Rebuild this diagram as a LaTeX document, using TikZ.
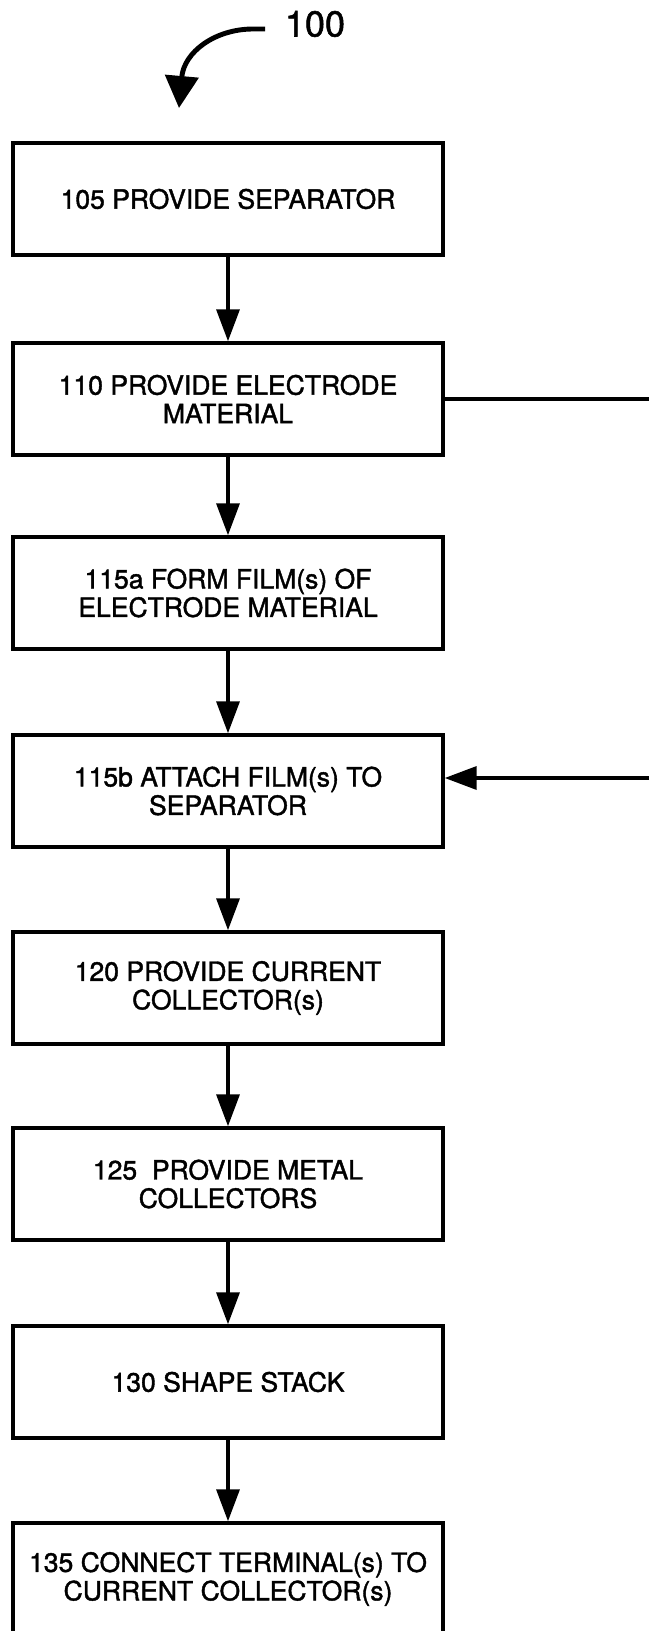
\documentclass[tikz,border=0pt]{standalone}
\usepackage{fontspec}
\setmainfont{TeX Gyre Heros}
\newfontfamily\stepfont[FakeBold=1.5]{TeX Gyre Heros}
\usetikzlibrary{arrows.meta, positioning}

\begin{document}
\begin{tikzpicture}[x=0.02cm, y=-0.02cm, line width=2pt,
    stepbox/.style={draw, minimum width=8.6cm, minimum height=2.24cm, inner sep=0pt, align=center, font=\stepfont\fontsize{15.1}{16.2}\selectfont},
    flow/.style={-{Triangle[length=0.64cm, width=0.46cm]}}]
    \def\cx{228}
    \useasboundingbox (0,0) rectangle (649,1631);
    \clip (0,0) rectangle (649,1631);
    % 图号
    \node[font=\stepfont\fontsize{20.5}{20.5}\selectfont, inner xsep=0.36cm, inner ysep=0pt] (fig) at (315,24) {100};
    \coordinate (figtip) at (179,108);
    \draw[line width=2.8pt, -{Triangle[length=0.64cm, width=0.66cm]}] ([yshift=-0.1cm]fig.west) -- ++(-12,0) .. controls (215,29) and (184,52) .. (figtip);
    % 步骤
    \node[stepbox] (s105) at (\cx,199) {105 PROVIDE SEPARATOR};
    \node[stepbox] (s110) at (\cx,399) {110 PROVIDE ELECTRODE\\MATERIAL};
    \node[stepbox] (s115a) at (\cx,593) {115a FORM FILM(s) OF\\ELECTRODE MATERIAL};
    \node[stepbox] (s115b) at (\cx,791) {115b ATTACH FILM(s) TO\\SEPARATOR};
    \node[stepbox] (s120) at (\cx,988) {120 PROVIDE CURRENT\\COLLECTOR(s)};
    \node[stepbox] (s125) at (\cx,1184) {125\ \ PROVIDE METAL\\COLLECTORS};
    \node[stepbox] (s130) at (\cx,1382) {130 SHAPE STACK};
    \node[stepbox] (s135) at (\cx,1579) {135 CONNECT TERMINAL(s) TO\\CURRENT COLLECTOR(s)};
    % 流程箭头
    \draw[flow] (s105.south) -- (s110.north);
    \draw[flow] (s110.south) -- (s115a.north);
    \draw[flow] (s115a.south) -- (s115b.north);
    \draw[flow] (s115b.south) -- (s120.north);
    \draw[flow] (s120.south) -- (s125.north);
    \draw[flow] (s125.south) -- (s130.north);
    \draw[flow] (s130.south) -- (s135.north);
    % 右侧支路
    \coordinate (rim) at (649,0);
    \coordinate (in115b) at (649,778);
    \draw (s110.east) -- (s110.east -| rim);
    \draw[flow] (in115b) -- (in115b -| s115b.east);
\end{tikzpicture}
\end{document}
